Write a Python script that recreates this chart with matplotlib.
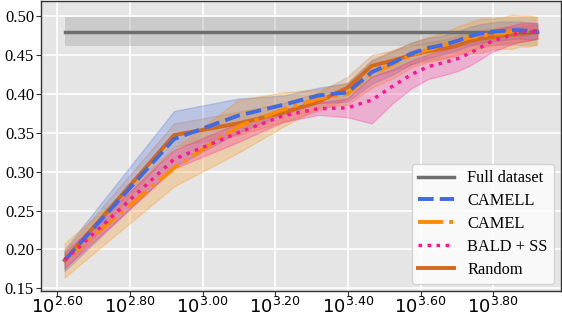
import numpy as np
import matplotlib
matplotlib.use("Agg")
import matplotlib.pyplot as plt
from matplotlib.ticker import FixedLocator, NullLocator, FuncFormatter

# ---- data ----
n_samples = [417 * k for k in range(1, 21)]

full_mean = 0.480
full_lo = 0.4615
full_hi = 0.499

random_mean = [0.186, 0.347, 0.362, 0.376, 0.390, 0.408, 0.436, 0.443, 0.450, 0.455,
               0.458, 0.462, 0.468, 0.471, 0.473, 0.475, 0.476, 0.477, 0.478, 0.480]
random_std = [0.012, 0.015, 0.015, 0.012, 0.012, 0.014, 0.014, 0.013, 0.012, 0.012,
              0.012, 0.012, 0.012, 0.011, 0.011, 0.011, 0.010, 0.010, 0.010, 0.009]

camell_mean = [0.186, 0.342, 0.372, 0.386, 0.398, 0.402, 0.428, 0.440, 0.452, 0.459,
               0.463, 0.468, 0.474, 0.478, 0.480, 0.481, 0.482, 0.482, 0.481, 0.481]
camell_std = [0.014, 0.036, 0.022, 0.012, 0.010, 0.012, 0.015, 0.015, 0.014, 0.013,
              0.012, 0.012, 0.012, 0.012, 0.012, 0.012, 0.011, 0.011, 0.011, 0.010]

camel_mean = [0.186, 0.305, 0.358, 0.380, 0.394, 0.400, 0.426, 0.438, 0.450, 0.457,
              0.462, 0.468, 0.472, 0.475, 0.477, 0.478, 0.480, 0.481, 0.481, 0.481]
camel_std = [0.022, 0.024, 0.034, 0.022, 0.012, 0.014, 0.018, 0.018, 0.016, 0.016,
             0.017, 0.018, 0.020, 0.022, 0.020, 0.020, 0.022, 0.020, 0.020, 0.018]

bald_mean = [0.186, 0.316, 0.350, 0.372, 0.381, 0.382, 0.392, 0.410, 0.425, 0.435,
             0.440, 0.445, 0.452, 0.460, 0.468, 0.472, 0.476, 0.479, 0.480, 0.481]
bald_std = [0.010, 0.012, 0.012, 0.008, 0.008, 0.012, 0.030, 0.022, 0.018, 0.016,
            0.016, 0.016, 0.016, 0.015, 0.014, 0.013, 0.012, 0.012, 0.011, 0.010]

xtick_exps = [2.6, 2.8, 3.0, 3.2, 3.4, 3.6, 3.8]
ytick_vals = [0.15, 0.20, 0.25, 0.30, 0.35, 0.40, 0.45, 0.50]

# ---- plot ----
fig = plt.figure(figsize=(5.62, 3.18), dpi=100)
ax = fig.add_axes([0.073, 0.085, 0.925, 0.913])
ax.set_facecolor("#E5E5E5")
ax.set_xscale("log")

x = np.array(n_samples)

def band(mean, std, color, alpha, z):
    m = np.array(mean); s = np.array(std)
    ax.fill_between(x, m - s, m + s, color=color, alpha=alpha, lw=1, zorder=z)

ax.fill_between(x, full_lo, full_hi, color="#9A9A9A", alpha=0.35, lw=0, zorder=1)
ax.plot(x, [full_mean] * len(x), color="#6E6E6E", lw=2.5, label="Full dataset", zorder=3)

band(camell_mean, camell_std, "#4169E1", 0.25, 1.1)
band(camel_mean, camel_std, "#FF8C00", 0.25, 1.2)
band(bald_mean, bald_std, "#FF1493", 0.25, 1.3)
band(random_mean, random_std, "#D2691E", 0.20, 1.05)

ax.plot(x, camell_mean, color="#4169E1", lw=2.8, ls=(0, (4, 1.6)), label="CAMELL", zorder=3.2)
ax.plot(x, camel_mean, color="#FF8C00", lw=2.8, ls="-.", label="CAMEL", zorder=3.1)
ax.plot(x, bald_mean, color="#FF1493", lw=2.5, ls=(0, (1, 1.6)), label="BALD + SS", zorder=3.3)
ax.plot(x, random_mean, color="#D2691E", lw=2.8, ls="-", label="Random", zorder=2.9)

ax.set_ylim(0.1465, 0.520)
ax.xaxis.set_major_locator(FixedLocator([10 ** e for e in xtick_exps]))
ax.xaxis.set_minor_locator(NullLocator())
ax.xaxis.set_major_formatter(FuncFormatter(lambda v, p: r"$10^{%.2f}$" % np.log10(v)))
ax.set_yticks(ytick_vals)
ax.yaxis.set_major_formatter(FuncFormatter(lambda v, p: "%.2f" % v))

ax.grid(True, color="white", lw=1.2)
ax.set_axisbelow(True)
for sp in ax.spines.values():
    sp.set_color("#333333")
    sp.set_linewidth(1.0)

ax.tick_params(axis="x", labelsize=13, length=3.5, color="#333333", pad=1)
ax.tick_params(axis="y", labelsize=12, length=3.5, color="#333333", pad=1.5)
for lab in ax.get_yticklabels():
    lab.set_fontfamily("Liberation Serif")

leg = ax.legend(loc="lower right", prop={"family": "Liberation Serif", "size": 11.8},
                facecolor="white", framealpha=0.8, edgecolor="#CCCCCC",
                handlelength=2.2, borderaxespad=0.4, labelspacing=0.42)

fig.savefig("out.png", dpi=100)
